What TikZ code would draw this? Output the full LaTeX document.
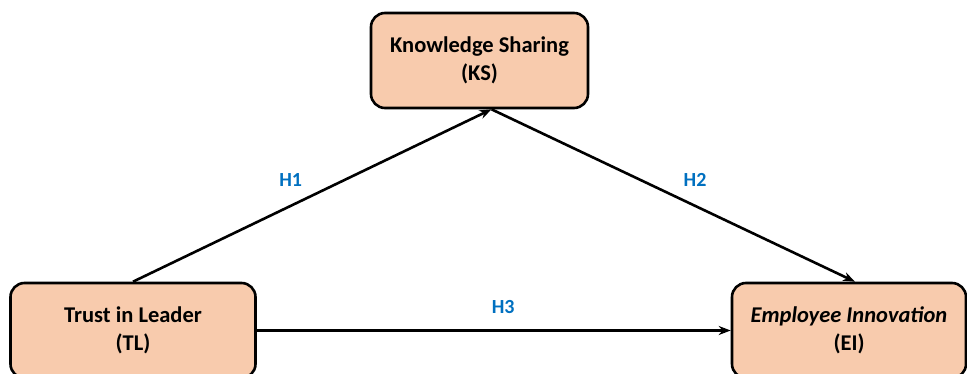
\documentclass[tikz,border=0pt]{standalone}
\usepackage{fontspec}
\setmainfont{Carlito}
\usepackage[HTML]{xcolor}
\usepackage{tikz}
\usetikzlibrary{positioning, arrows.meta}

\definecolor{boxfill}{HTML}{F8CBAD}
\definecolor{hypblue}{HTML}{0070C0}

\begin{document}
\begin{tikzpicture}[
    x=1pt, y=-1pt,
    >={Stealth[length=12pt,width=9pt]},
    every node/.style={font=\fontsize{20}{28}\selectfont\bfseries},
    construct/.style={draw, line width=2.6pt, fill=boxfill, rounded corners=14pt,
        minimum height=95pt, align=center, inner sep=0pt,
        font=\fontsize{22.5}{28}\selectfont\bfseries},
    hyp/.style={text=hypblue}
]
    \useasboundingbox (0,0) rectangle (967,374);

    % Define nodes
    \node (KS) [construct, minimum width=217pt] at (479.5,60.5) {Knowledge Sharing\\(KS)};
    \node (TL) [construct, minimum width=245pt] at (133,330.5) {Trust in Leader\\(TL)};
    \node (EI) [construct, minimum width=234pt] at (849,330.5) {\itshape Employee Innovation\\(EI)};

    % Draw arrows
    \draw[->, line width=2.6pt] (TL.north) -- node[hyp, pos=0.44, above=15pt] {H1} ([xshift=12pt]KS.south);
    \draw[->, line width=2.6pt] ([xshift=12pt]KS.south) -- node[hyp, pos=0.56, above=15pt] {H2} ([xshift=6pt]EI.north);
    \draw[->, line width=2.6pt] (TL.east) -- node[hyp, pos=0.52, above=12pt] {H3} (EI.west);
\end{tikzpicture}
\end{document}
